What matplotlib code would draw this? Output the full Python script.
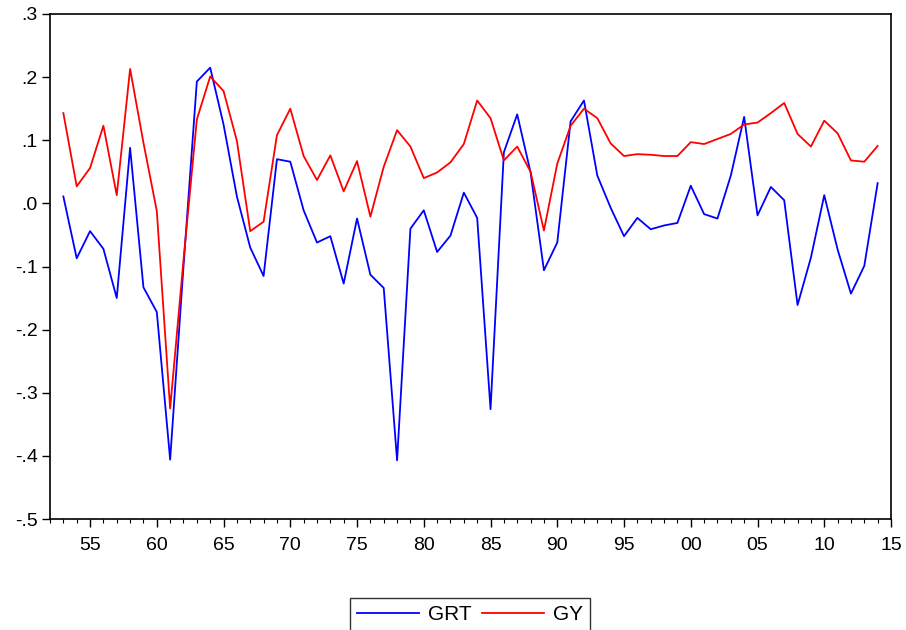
import numpy as np
import matplotlib.pyplot as plt
from matplotlib.ticker import FixedLocator, MultipleLocator, FuncFormatter

plt.rcParams['font.family'] = ['Liberation Sans', 'DejaVu Sans']

years = list(range(1953, 2015))

grt = [0.011, -0.087, -0.044, -0.072, -0.150, 0.088, -0.133, -0.172, -0.406, -0.100,
       0.193, 0.215, 0.125, 0.011, -0.070, -0.115, 0.070, 0.066, -0.011, -0.062,
       -0.052, -0.127, -0.024, -0.113, -0.134, -0.407, -0.040, -0.011, -0.077, -0.051,
       0.017, -0.023, -0.326, 0.081, 0.141, 0.049, -0.106, -0.062, 0.130, 0.163,
       0.044, -0.007, -0.052, -0.023, -0.041, -0.035, -0.031, 0.028, -0.017, -0.024,
       0.044, 0.137, -0.019, 0.026, 0.005, -0.161, -0.086, 0.013, -0.073, -0.143,
       -0.099, 0.032]

gy = [0.143, 0.027, 0.056, 0.123, 0.013, 0.213, 0.096, -0.012, -0.325, -0.090,
      0.133, 0.201, 0.178, 0.099, -0.044, -0.029, 0.108, 0.150, 0.075, 0.037,
      0.076, 0.019, 0.067, -0.021, 0.058, 0.116, 0.090, 0.040, 0.049, 0.065,
      0.094, 0.163, 0.135, 0.068, 0.090, 0.050, -0.043, 0.063, 0.123, 0.150,
      0.135, 0.095, 0.075, 0.078, 0.077, 0.075, 0.075, 0.097, 0.094, 0.102,
      0.110, 0.125, 0.128, 0.143, 0.159, 0.110, 0.090, 0.131, 0.111, 0.068,
      0.066, 0.091]

fig = plt.figure(figsize=(9.06, 6.3), dpi=100)
ax = fig.add_axes([50 / 906, 1 - 519 / 630, 841 / 906, 505 / 630])

ax.plot(years, grt, color='#0000ff', lw=1.3, label='GRT')
ax.plot(years, gy, color='#ff0000', lw=1.3, label='GY')

ax.set_xlim(1952, 2015)
ax.set_ylim(-0.5, 0.3)

ax.xaxis.set_major_locator(FixedLocator(range(1955, 2016, 5)))
ax.xaxis.set_minor_locator(MultipleLocator(1))
ax.xaxis.set_major_formatter(FuncFormatter(lambda v, p: '%02d' % (int(round(v)) % 100)))

ax.yaxis.set_major_locator(MultipleLocator(0.1))


def yfmt(v, p):
    s = '%.1f' % v
    if s == '-0.0':
        s = '0.0'
    return s.replace('0.', '.', 1)


ax.yaxis.set_major_formatter(FuncFormatter(yfmt))

ax.tick_params(axis='x', which='major', direction='out', length=6, width=1, labelsize=14, pad=7)
ax.tick_params(axis='x', which='minor', direction='out', length=3, width=0.8)
ax.tick_params(axis='y', direction='out', length=6, width=1, labelsize=14, pad=3)

for s in ax.spines.values():
    s.set_linewidth(1.2)

ax.legend(loc='upper center', bbox_to_anchor=(0.499, -0.135), ncol=2, frameon=True,
          fancybox=False, edgecolor='black', fontsize=15, handlelength=3.0,
          columnspacing=0.5, handletextpad=0.4, borderpad=0.35)

fig.savefig('out.png', dpi=100)
